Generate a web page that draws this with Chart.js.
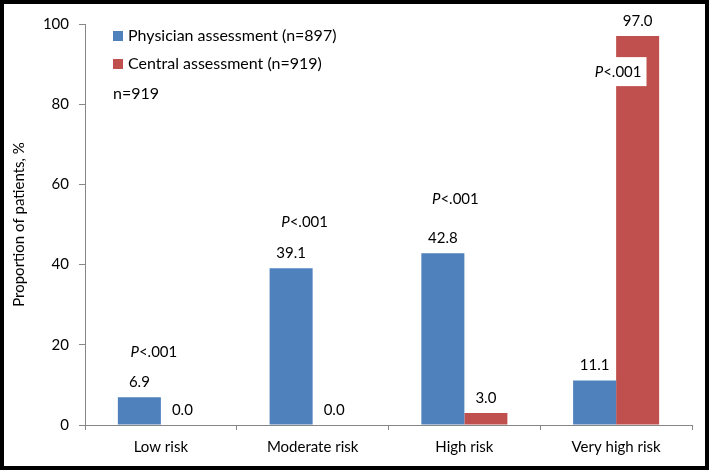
<!DOCTYPE html>
<html>
<head>
<meta charset="utf-8">
<script src="https://cdn.jsdelivr.net/npm/chart.js@4"></script>
<style>
  html, body { margin: 0; padding: 0; background: #fff; }
  #wrap { width: 709px; height: 470px; }
</style>
</head>
<body>
<div id="wrap"><canvas id="riskChart" width="709" height="470"></canvas></div>
<script>
// Risk categories and proportions (%)
const categories = ["Low risk", "Moderate risk", "High risk", "Very high risk"];
const physicianValues = [6.9, 39.1, 42.8, 11.1];
const centralValues = [0.0, 0.0, 3.0, 97.0];
const seriesNames = ["Physician assessment (n=897)", "Central assessment (n=919)"];
const yTicks = [0, 20, 40, 60, 80, 100];

// P value notes, height given in axis units
const pText = "<.001";
const pHeights = [18.2, 50.6, 56.4, 88.0];
const pShift = [-7, -8, -9, 2];
const pBoxed = [false, false, false, true];

const FONT = "Lato, 'Open Sans', sans-serif";
const blue = "#4F81BD";
const red = "#C0504D";

// Draws the value above each bar, P notes, legend box and outer frame
const extrasPlugin = {
    id: "extras",
    afterDatasetsDraw(chart) {
        const ctx = chart.ctx;
        const yScale = chart.scales.y;
        const xScale = chart.scales.x;
        ctx.save();
        ctx.font = "15px " + FONT;
        ctx.fillStyle = "#000";
        ctx.textAlign = "center";
        ctx.textBaseline = "middle";
        chart.data.datasets.forEach((ds, di) => {
            const meta = chart.getDatasetMeta(di);
            meta.data.forEach((bar, i) => {
                ctx.fillText(ds.data[i].toFixed(1), bar.x, bar.y - 15);
            });
        });

        // P<.001 notes
        categories.forEach((c, i) => {
            const cx = xScale.getPixelForValue(i) + pShift[i];
            const cy = yScale.getPixelForValue(pHeights[i]);
            ctx.font = "italic 15px " + FONT;
            const wP = ctx.measureText("P").width;
            ctx.font = "15px " + FONT;
            const wR = ctx.measureText(pText).width;
            const total = wP + wR;
            const x0 = cx - total / 2;
            if (pBoxed[i]) {
                ctx.fillStyle = "#fff";
                ctx.fillRect(x0 - 5, cy - 15, total + 10, 29);
            }
            ctx.fillStyle = "#000";
            ctx.textAlign = "left";
            ctx.font = "italic 15px " + FONT;
            ctx.fillText("P", x0, cy);
            ctx.font = "15px " + FONT;
            ctx.fillText(pText, x0 + wP, cy);
        });

        // legend inside plot
        const lx = 113;
        const rows = [36, 64];
        ctx.textAlign = "left";
        ctx.font = "16px " + FONT;
        [blue, red].forEach((col, k) => {
            ctx.fillStyle = col;
            ctx.fillRect(lx, rows[k] - 5, 10, 10);
            ctx.fillStyle = "#000";
            ctx.fillText(seriesNames[k], lx + 15, rows[k]);
        });
        ctx.fillText("n=919", lx, 94);
        ctx.restore();
    },
    afterDraw(chart) {
        const ctx = chart.ctx;
        ctx.save();
        ctx.strokeStyle = "#000";
        ctx.lineWidth = 4;
        ctx.strokeRect(2, 2, chart.width - 4, chart.height - 4);
        ctx.restore();
    }
};

const ctx = document.getElementById("riskChart").getContext("2d");
new Chart(ctx, {
    type: "bar",
    data: {
        labels: categories,
        datasets: [
            { label: seriesNames[0], data: physicianValues, backgroundColor: blue },
            { label: seriesNames[1], data: centralValues, backgroundColor: red }
        ]
    },
    options: {
        responsive: false,
        animation: false,
        layout: { padding: { left: 0, right: 17, top: 24, bottom: 0 } },
        datasets: { bar: { categoryPercentage: 0.567, barPercentage: 1.0 } },
        plugins: { legend: { display: false }, tooltip: { enabled: false } },
        scales: {
            x: {
                grid: { drawOnChartArea: false, offset: true, tickLength: 5, color: "#868686" },
                border: { color: "#868686" },
                ticks: { color: "#000", font: { family: FONT, size: 15 }, padding: 8 },
                afterFit(scale) { scale.height = 45; }
            },
            y: {
                min: 0,
                max: 100,
                afterBuildTicks(scale) { scale.ticks = yTicks.map((v) => ({ value: v })); },
                grid: { drawOnChartArea: false, tickLength: 6, color: "#868686" },
                border: { color: "#868686" },
                ticks: { color: "#000", font: { family: FONT, size: 15 }, padding: 10 },
                title: {
                    display: true,
                    text: "Proportion of patients, %",
                    color: "#000",
                    font: { family: FONT, size: 15 },
                    padding: { top: 10, bottom: 0 }
                },
                afterFit(scale) { scale.width = 85; }
            }
        }
    },
    plugins: [extrasPlugin]
});
</script>
</body>
</html>
